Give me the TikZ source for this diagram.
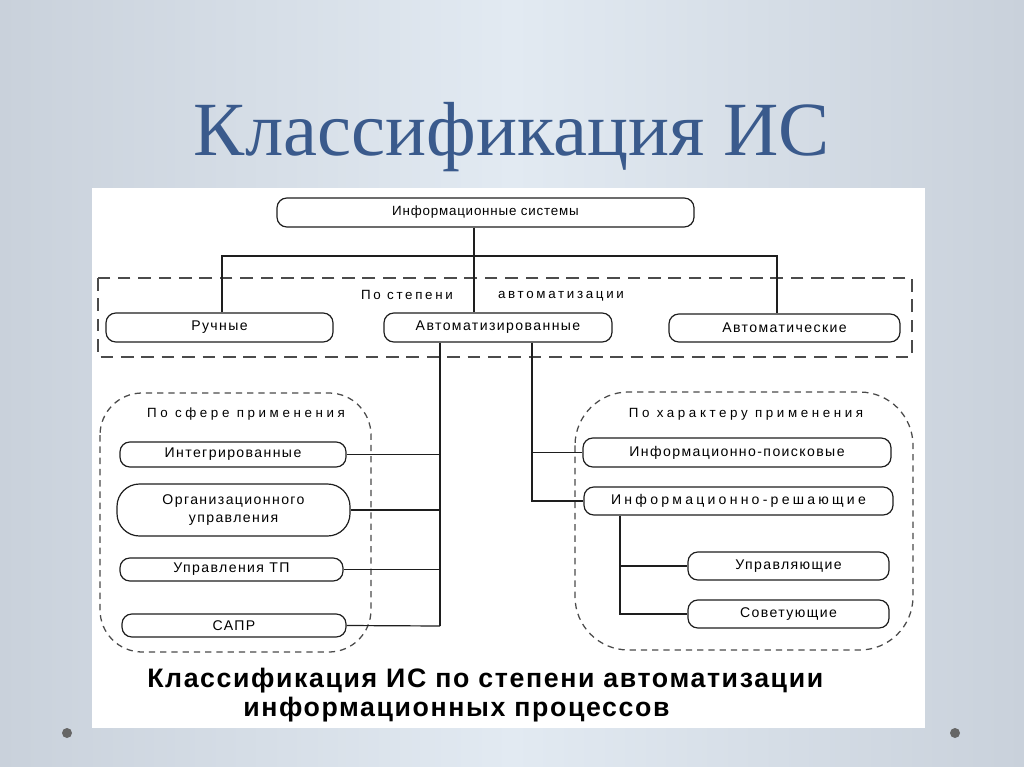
\documentclass[tikz,border=0pt]{standalone}
\usepackage{fontspec}
\setmainfont{Liberation Sans}
\newfontfamily\titlefont{Liberation Serif}
\newfontfamily\nf[LetterSpace=10]{Liberation Sans}
\newfontfamily\nfa[LetterSpace=6]{Liberation Sans}
\newfontfamily\nfb[LetterSpace=23]{Liberation Sans}
\newfontfamily\lf[LetterSpace=20]{Liberation Sans}
\newfontfamily\lfb[LetterSpace=27]{Liberation Sans}
\newfontfamily\cf[LetterSpace=6]{Liberation Sans}
\def\pxu{0.025cm}
\definecolor{bgedge}{HTML}{C9D1DB}
\definecolor{bgmid}{HTML}{E2EAF2}
\definecolor{titleblue}{HTML}{3A5A8C}
\definecolor{ink}{HTML}{1E1E1E}
\begin{document}
\begin{tikzpicture}[x=0.025cm,y=-0.025cm,
  sz/.style 2 args={minimum width=#1*\pxu, minimum height=#2*\pxu},
  box/.style={draw=ink, line width=0.85pt, rounded corners=7pt, inner sep=0pt,
    align=center, font=\nf\fontsize{10}{13}\selectfont},
  lbl/.style={inner sep=0pt, font=\lf\fontsize{9.5}{11}\selectfont},
  lblb/.style={inner sep=0pt, font=\lfb\fontsize{9.5}{11}\selectfont},
  conn/.style={draw=ink, line width=0.85pt},
  group/.style={draw=ink!80, line width=1.3pt, dash pattern=on 9pt off 5.5pt},
  rgroup/.style={draw=ink!80, line width=0.9pt, dash pattern=on 4.5pt off 3.5pt},
  captxt/.style={anchor=base west, inner sep=0pt, font=\cf\bfseries\fontsize{19}{22}\selectfont}]
\useasboundingbox (0,0) rectangle (1024,767);
% background
\shade[left color=bgedge, right color=bgedge, middle color=bgmid] (0,0) rectangle (1024,767);
\fill[white] (92,188) rectangle (925,728);
\fill[gray!80!black] (67,733) circle (5);
\fill[gray!80!black] (955,733) circle (5);
% title
\node[anchor=base, text=titleblue, font=\titlefont\fontsize{54.5}{58}\selectfont] (title) at (512,156) {Классификация ИС};
% groups
\draw[group] (98,278) rectangle (912,357);
\draw[rgroup, rounded corners=30pt] (100,393) rectangle (371,652);
\draw[rgroup, rounded corners=38pt] (575,392) rectangle (913,650);
\node[lbl] (lblA) at (407,295) {По степени};
\node[lbl] (lblB) at (561,296) {автоматизации};
\node[lblb] (lblC) at (246,414) {По сфере применения};
\node[lblb] (lblD) at (746,414) {По характеру применения};
% nodes
\node[box, sz={417}{29}, font=\nfa\fontsize{9.5}{12}\selectfont] (is) at (485.5,212.5) {Информационные системы};
\node[box, sz={227}{29}] (ruch) at (219.5,327.5) {Ручные};
\node[box, sz={228}{29}] (avt) at (498,327.5) {Автоматизированные};
\node[box, sz={231}{28}] (avtm) at (784.5,328) {Автоматические};
\node[box, sz={226}{25}] (integ) at (233,454.5) {Интегрированные};
\node[box, sz={233}{52}, rounded corners=16pt] (org) at (233.5,510) {Организационного\\управления};
\node[box, sz={223}{23}] (utp) at (231.5,569.5) {Управления ТП};
\node[box, sz={224}{23}] (sapr) at (234,625.5) {САПР};
\node[box, sz={308}{29}] (ip) at (737,452.5) {Информационно-поисковые};
\node[box, sz={309}{28}, font=\nfb\fontsize{10}{13}\selectfont] (ir) at (738.5,501) {Информационно-решающие};
\node[box, sz={201}{28}] (upr) at (788.5,566) {Управляющие};
\node[box, sz={201}{28}] (sov) at (788.5,614) {Советующие};
% junctions
\coordinate (j1) at (222,256);
\coordinate (j2) at (777,256);
\coordinate (jm) at (474,256);
\coordinate (jl) at (440,626);
\coordinate (jr) at (532,501);
\coordinate (js) at (620,614);
% connectors
\draw[conn] (is.south -| jm) -- (avt.north -| jm);
\draw[conn] (ruch.north -| j1) -- (j1) -- (j2) -- (avtm.north -| j2);
\draw[conn] (avt.south -| jl) -- (jl);
\draw[conn] (integ.east) -- (integ.east -| jl);
\draw[conn] (org.east) -- (org.east -| jl);
\draw[conn] (utp.east) -- (utp.east -| jl);
\draw[conn] (sapr.east) -- (jl);
\draw[conn] (avt.south -| jr) -- (jr) -- (ir.west);
\draw[conn] (ip.west -| jr) -- (ip.west);
\draw[conn] (ir.south -| js) -- (js) -- (sov.west);
\draw[conn] (upr.west -| js) -- (upr.west);
% caption
\node[captxt] (cap1) at (147,687) {Классификация ИС по степени автоматизации};
\node[captxt] (cap2) at (243,716) {информационных процессов};
\end{tikzpicture}
\end{document}
